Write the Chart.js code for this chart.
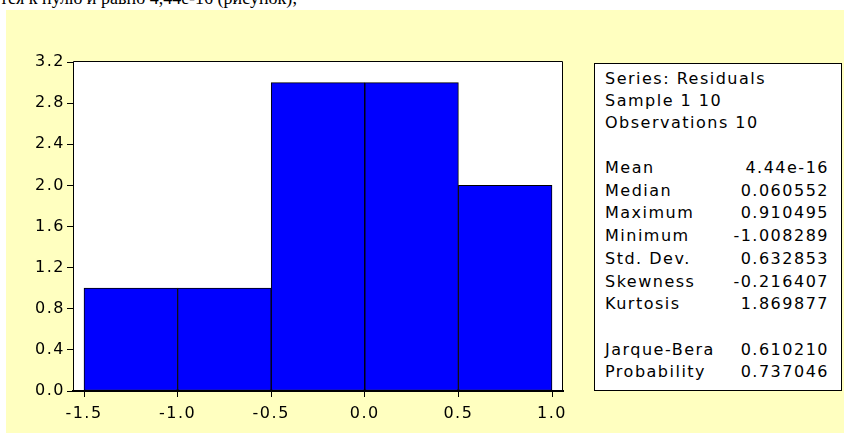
<!DOCTYPE html>
<html><head><meta charset="utf-8">
<script src="https://cdn.jsdelivr.net/npm/chart.js@4"></script>
<style>
html,body{margin:0;padding:0;background:#fff;width:844px;height:433px;overflow:hidden;position:relative;}
#caption{position:absolute;left:0;top:-11px;font:18px 'Liberation Serif',serif;line-height:18px;color:#000;white-space:nowrap;}
#panel{position:absolute;left:6px;top:10px;width:838px;height:423px;background:#FFFFC0;}
#wrap{position:absolute;left:0;top:0;width:844px;height:433px;}
#stats{position:absolute;left:594px;top:63px;width:246px;height:326px;border:1px solid #000;background:#fff;font:16px 'DejaVu Sans',sans-serif;letter-spacing:1.5px;color:#000;}
.row{position:absolute;left:10px;right:12px;height:22px;line-height:22px;display:flex;justify-content:space-between;white-space:nowrap;}
</style>
</head><body>
<div id="caption">тся к нулю и равно 4,44е-16 (рисунок);</div>
<div id="panel"></div>
<div id="wrap"><canvas id="c" width="844" height="433"></canvas></div>
<div id="stats"></div>
<script>
// ---- data ----
const binStart = [-1.5, -1.0, -0.5, 0.0, 0.5];
const binEnd   = [-1.0, -0.5, 0.0, 0.5, 1.0];
const counts   = [1, 1, 3, 3, 2];
const xTicks = [-1.5, -1.0, -0.5, 0.0, 0.5, 1.0];
const yTicks = [0.0, 0.4, 0.8, 1.2, 1.6, 2.0, 2.4, 2.8, 3.2];
const headerLines = ["Series: Residuals", "Sample 1 10", "Observations 10"];
const statNames  = ["Mean", "Median", "Maximum", "Minimum", "Std. Dev.", "Skewness", "Kurtosis"];
const statValues = ["4.44e-16", "0.060552", "0.910495", "-1.008289", "0.632853", "-0.216407", "1.869877"];
const testNames  = ["Jarque-Bera", "Probability"];
const testValues = ["0.610210", "0.737046"];

// ---- stats box ----
const box = document.getElementById('stats');
function addRow(label, value, center){
  const r = document.createElement('div'); r.className='row';
  r.style.top = (center - 64 - 11) + 'px';
  const a = document.createElement('span'); a.textContent = label;
  const b = document.createElement('span'); b.textContent = value || '';
  r.appendChild(a); r.appendChild(b); box.appendChild(r);
}
headerLines.forEach((t,i)=>addRow(t,'',79 + i*22));
statNames.forEach((t,i)=>addRow(t,statValues[i],168 + i*22.7));
testNames.forEach((t,i)=>addRow(t,testValues[i],350 + i*22));

// ---- chart ----
const pxPerUnit = 187.2;
const xMin = -1.5 - 11/pxPerUnit, xMax = 1.0 + 11/pxPerUnit;
const FONT = {family:"'DejaVu Sans', sans-serif", size:16};
const LS = '1.5px';

const spacing = {
  id:'spacing',
  beforeLayout(c){ c.ctx.letterSpacing=LS; },
  beforeDraw(c){
    const ctx=c.ctx, a=c.chartArea;
    ctx.letterSpacing=LS;
    ctx.save(); ctx.fillStyle='#fff';
    ctx.fillRect(a.left, a.top-1, a.right-a.left, a.bottom-a.top+1);
    ctx.restore();
  },
  afterDraw(c){
    const ctx=c.ctx, a=c.chartArea;
    ctx.save(); ctx.strokeStyle='#000'; ctx.lineWidth=1;
    ctx.beginPath();
    ctx.moveTo(a.left+0.5, a.bottom); ctx.lineTo(a.left+0.5, a.top-0.5);
    ctx.lineTo(a.right-0.5, a.top-0.5); ctx.lineTo(a.right-0.5, a.bottom);
    ctx.stroke(); ctx.restore();
  }
};

new Chart(document.getElementById('c'), {
  type:'bar',
  data:{ datasets:[{
    data: counts.map((v,i)=>({x:(binStart[i]+binEnd[i])/2, y:v})),
    backgroundColor:'#0000FF', borderColor:'#000', borderWidth:1, borderSkipped:false,
    barPercentage:1, categoryPercentage:1
  }]},
  options:{
    responsive:false, animation:false, devicePixelRatio:1,
    layout:{padding:{left:13, top:62, right:281, bottom:12}},
    plugins:{legend:{display:false}, tooltip:{enabled:false}},
    scales:{
      x:{type:'linear', offset:false, min:xMin, max:xMax,
        afterBuildTicks(s){ s.ticks = xTicks.map(v=>({value:v})); },
        afterFit(s){ s.height=30; },
        ticks:{color:'#000', font:FONT, padding:7, maxRotation:0, autoSkip:false, callback:v=>v.toFixed(1)},
        grid:{display:true, offset:false, drawOnChartArea:false, drawTicks:true, tickLength:6, color:'#000', lineWidth:1},
        border:{display:true, color:'#000', width:2}
      },
      y:{min:0, max:3.2,
        afterBuildTicks(s){ s.ticks = yTicks.map(v=>({value:v})); },
        afterFit(s){ s.width=60; },
        ticks:{color:'#000', font:FONT, padding:2, autoSkip:false, callback:v=>v.toFixed(1)},
        grid:{display:true, offset:false, drawOnChartArea:false, drawTicks:true, tickLength:6, color:'#000', lineWidth:1},
        border:{display:true, color:'#000', width:1}
      }
    }
  },
  plugins:[spacing]
});
</script>
</body></html>
